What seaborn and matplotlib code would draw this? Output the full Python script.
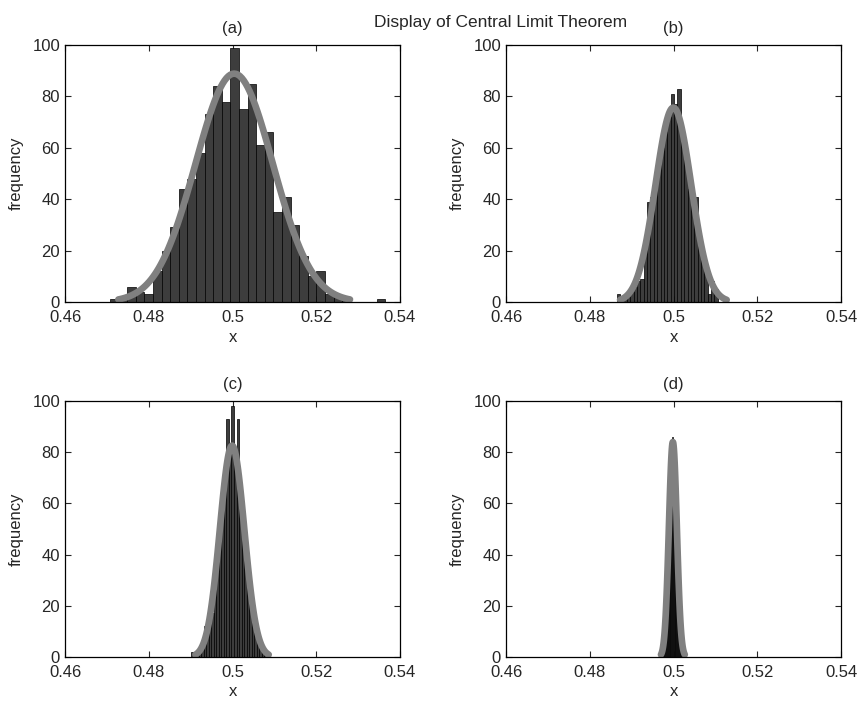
import numpy as np
import pandas as pd
import matplotlib
matplotlib.use("Agg")
import matplotlib.pyplot as plt
import seaborn as sns

# ---------------- data ----------------
suptitle_text = "Display of Central Limit Theorem"
panel_titles = ["(a)", "(b)", "(c)", "(d)"]
x_label = "x"
y_label = "frequency"
x_ticks = [0.46, 0.48, 0.50, 0.52, 0.54]
x_tick_labels = ["0.46", "0.48", "0.5", "0.52", "0.54"]
y_ticks = [0, 20, 40, 60, 80, 100]
y_tick_labels = ["0", "20", "40", "60", "80", "100"]

# histogram counts per bin (left to right)
counts_a = [1, 1, 6, 4, 3, 12, 20, 29, 44, 48, 58, 73, 84, 78, 99, 75,
            85, 61, 66, 35, 41, 30, 18, 10, 12, 3, 2, 1, 0, 0, 0, 1]
counts_b = [3, 0, 1, 2, 4, 6, 8, 9, 25, 39, 41, 48, 55, 60, 66, 72,
            81, 77, 83, 64, 56, 44, 42, 41, 27, 18, 12, 3, 8, 5]
counts_c = [2, 1, 2, 3, 5, 12, 10, 14, 17, 30, 40, 50, 58, 72, 93, 80,
            98, 78, 93, 58, 49, 40, 30, 22, 16, 11, 7, 4, 3, 2]
counts_d = [1, 2, 3, 5, 8, 12, 17, 25, 33, 44, 53, 63, 72, 79, 86, 81,
            76, 73, 63, 54, 43, 34, 25, 17, 12, 8, 5, 3, 2, 1]

# first bin edge and bin width per panel
bin_start = [0.47075, 0.48644, 0.49009, 0.49685]
bin_width = [0.0020537, 0.000805, 0.000604, 0.0002]

# fitted normal curve parameters per panel (histfit style, drawn over +-3 sigma)
fit_mu = [0.5004, 0.49997, 0.4999, 0.49985]
fit_sigma = [0.00922, 0.004245, 0.002918, 0.00095]
n_samples = 1000

# ---------------- styling ----------------
sns.set_style("ticks")
plt.rcParams["font.family"] = ["Liberation Sans", "DejaVu Sans"]
plt.rcParams["font.size"] = 12

bar_color = "#3d3d3d"
curve_color = "#808080"

fig = plt.figure(figsize=(8.63, 7.04), dpi=100)
W, H = 863.0, 704.0
positions = [
    (65, 45, 335, 257),
    (506, 45, 335, 257),
    (65, 401, 335, 256),
    (506, 401, 335, 256),
]
all_counts = [counts_a, counts_b, counts_c, counts_d]

for i, (l, t, w, h) in enumerate(positions):
    ax = fig.add_axes([l / W, 1 - (t + h) / H, w / W, h / H])
    counts = [float(c) for c in all_counts[i]]
    edges = [bin_start[i] + bin_width[i] * k for k in range(len(counts) + 1)]
    centers = [0.5 * (edges[k] + edges[k + 1]) for k in range(len(counts))]
    df = pd.DataFrame({"x": centers, "n": counts})
    sns.histplot(data=df, x="x", weights="n", bins=edges, ax=ax,
                 color=bar_color, edgecolor="black", linewidth=0.5,
                 alpha=1.0, stat="count")
    mu, s = fit_mu[i], fit_sigma[i]
    xs = np.linspace(mu - 3 * s, mu + 3 * s, 121)
    ys = n_samples * bin_width[i] * np.exp(-0.5 * ((xs - mu) / s) ** 2) / (s * np.sqrt(2 * np.pi))
    sns.lineplot(x=xs, y=ys, ax=ax, color=curve_color, linewidth=4.8,
                 sort=False, estimator=None)

    ax.set_xlim(0.46, 0.54)
    ax.set_ylim(0, 100)
    ax.set_xticks(x_ticks)
    ax.set_xticklabels(x_tick_labels)
    ax.set_yticks(y_ticks)
    ax.set_yticklabels(y_tick_labels)
    ax.tick_params(direction="in", top=True, right=True, length=4,
                   width=0.8, labelsize=12)
    ax.tick_params(axis="x", pad=6)
    ax.tick_params(axis="y", pad=3.6)
    for sp in ax.spines.values():
        sp.set_visible(True)
        sp.set_linewidth(0.9)
        sp.set_color("black")
    ax.set_xlabel(x_label, fontsize=12, labelpad=3)
    ax.set_ylabel(y_label, fontsize=12, labelpad=6)
    ax.set_title(panel_titles[i], fontsize=12, pad=9)

fig.text(374 / W, 1 - 27 / H, suptitle_text, ha="left", va="baseline", fontsize=12.5)

fig.savefig("out.png", dpi=100)
